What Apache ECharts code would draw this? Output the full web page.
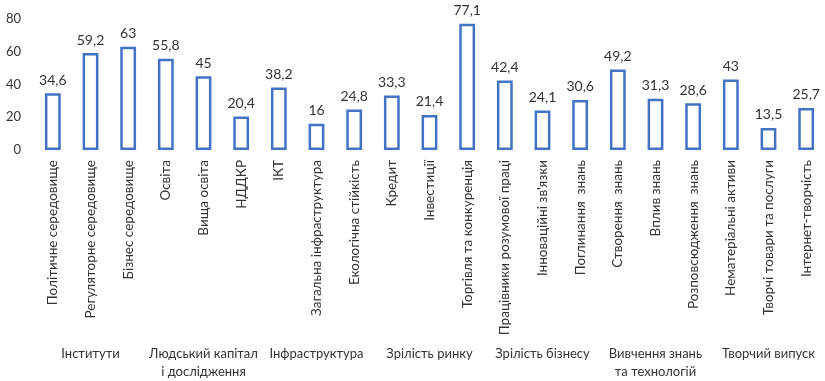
<!DOCTYPE html>
<html>
<head>
<meta charset="utf-8">
<script src="https://cdn.jsdelivr.net/npm/echarts@6/dist/echarts.min.js"></script>
<style>
  html, body { margin: 0; padding: 0; background: #fff; }
  #chart { width: 825px; height: 381px; }
</style>
</head>
<body>
<div id="chart"></div>
<script>
// Pillar sub-indicators and their scores
const categories = [
  'Політичне середовище', 'Регуляторне середовище', 'Бізнес середовище',
  'Освіта', 'Вища освіта', 'НДДКР',
  'ІКТ', 'Загальна інфраструктура', 'Екологічна стійкість',
  'Кредит', 'Інвестиції', 'Торгівля та конкуренція',
  'Працівники розумової праці', 'Інноваційні зв\'язки', 'Поглинання  знань',
  'Створення  знань', 'Вплив знань', 'Розповсюдження  знань',
  'Нематеріальні активи', 'Творчі товари та послуги', 'Інтернет-творчість'
];
const values = [
  34.6, 59.2, 63,
  55.8, 45, 20.4,
  38.2, 16, 24.8,
  33.3, 21.4, 77.1,
  42.4, 24.1, 30.6,
  49.2, 31.3, 28.6,
  43, 13.5, 25.7
];
// Pillar names shown beneath the indicator labels
const groups = [
  'Інститути',
  'Людський капітал\nі дослідження',
  'Інфраструктура',
  'Зрілість ринку',
  'Зрілість бізнесу',
  'Вивчення знань\nта технологій',
  'Творчий випуск'
];
const yTicks = { min: 0, max: 80, interval: 20 };

const FONT = 'Lato, "Open Sans", sans-serif';
const TEXT = '#333333';
const PLOT_LEFT = 34;
const PLOT_WIDTH = 794;

const chart = echarts.init(document.getElementById('chart'), null, { renderer: 'canvas' });
chart.setOption({
  animation: false,
  grid: [
    { left: PLOT_LEFT, width: PLOT_WIDTH, top: 19, bottom: 231 },
    { left: PLOT_LEFT, width: PLOT_WIDTH, top: 330, height: 10 }
  ],
  xAxis: [
    {
      type: 'category',
      gridIndex: 0,
      data: categories,
      axisLine: { show: false },
      axisTick: { show: false },
      axisLabel: {
        rotate: 90,
        margin: 10,
        interval: 0,
        color: TEXT,
        fontFamily: FONT,
        fontSize: 13.5
      }
    },
    {
      type: 'category',
      gridIndex: 1,
      data: groups,
      axisLine: { show: false },
      axisTick: { show: false },
      axisLabel: {
        interval: 0,
        margin: 8,
        color: TEXT,
        fontFamily: FONT,
        fontSize: 13,
        lineHeight: 18
      }
    }
  ],
  yAxis: [
    {
      type: 'value',
      gridIndex: 0,
      min: yTicks.min,
      max: yTicks.max,
      interval: yTicks.interval,
      axisLine: { show: false },
      axisTick: { show: false },
      splitLine: { show: false },
      axisLabel: {
        margin: 13,
        color: TEXT,
        fontFamily: FONT,
        fontSize: 13
      }
    },
    { type: 'value', gridIndex: 1, show: false }
  ],
  series: [
    {
      type: 'bar',
      xAxisIndex: 0,
      yAxisIndex: 0,
      data: values,
      barWidth: '42%',
      itemStyle: {
        color: '#ffffff',
        borderColor: '#4472C4',
        borderWidth: 2.5
      },
      label: {
        show: true,
        position: 'top',
        distance: 6,
        color: TEXT,
        fontFamily: FONT,
        fontSize: 14,
        formatter: p => String(p.value).replace('.', ',')
      }
    }
  ]
});
</script>
</body>
</html>
